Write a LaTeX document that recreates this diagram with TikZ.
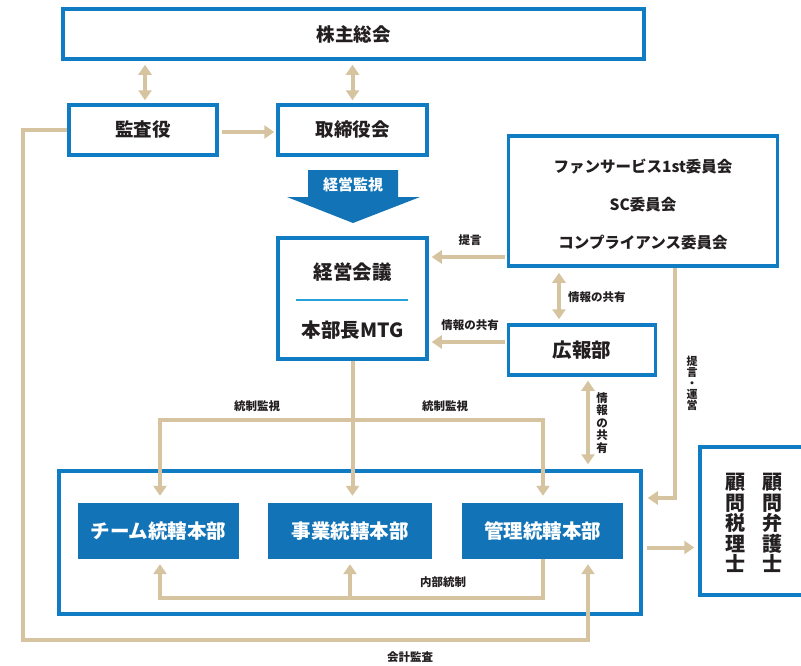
\documentclass[tikz,border=0pt]{standalone}
\usepackage{fontspec}
\setmainfont{Noto Sans CJK JP}
\usetikzlibrary{arrows.meta,calc}
\definecolor{bblue}{RGB}{16,124,196}
\definecolor{fblue}{RGB}{18,116,182}
\definecolor{lblue}{RGB}{40,160,220}
\definecolor{tan}{RGB}{214,196,160}
\definecolor{ink}{RGB}{35,31,32}
\tikzset{
  box/.style={draw=bblue, line width=3.5pt, rectangle, inner sep=0pt, font=\bfseries\fontsize{18.5}{20}\selectfont, text=ink},
  fbox/.style={fill=fblue, rectangle, inner sep=0pt, minimum width=161pt, minimum height=56pt, font=\bfseries\fontsize{19.5}{21}\selectfont, text=white},
  tanline/.style={draw=tan, line width=4pt},
  tanarrow/.style={tanline, -{Triangle[width=13pt,length=10pt]}},
  tanboth/.style={tanline, {Triangle[width=13pt,length=10pt]}-{Triangle[width=13pt,length=10pt]}},
  small/.style={font=\bfseries\fontsize{11.5}{12}\selectfont, text=ink, inner sep=0pt},
}
\begin{document}
\begin{tikzpicture}[x=1pt,y=-1pt]
\useasboundingbox (0,0) rectangle (801,665);
\clip (0,0) rectangle (801,665);
\fill[white] (0,0) rectangle (801,665);

% boxes
\node[box, minimum width=581pt, minimum height=50pt] (top) at (353.5,34) {株主総会};
\node[box, minimum width=148pt, minimum height=50pt] (kansa) at (143,130) {監査役};
\node[box, minimum width=149pt, minimum height=50pt] (tori) at (352.5,130) {取締役会};
\node[box, minimum width=149pt, minimum height=121pt] (keiei) at (352.5,298.5) {};
\node[box, font=\bfseries\fontsize{19.5}{21}\selectfont] (keieiA) at (352.5,272) [draw=none] {経営会議};
\node[box, font=\bfseries\fontsize{19.5}{21}\selectfont] (keieiB) at (352.5,330) [draw=none] {本部長MTG};
\draw[lblue, line width=1.6pt] (296,300) -- (408,300);

\node[box, minimum width=269pt, minimum height=130pt] (comm) at (643,201) {};
\node[box, draw=none, font=\bfseries\fontsize{15.5}{17}\selectfont] (c1) at (643,167) {ファンサービス1st委員会};
\node[box, draw=none, font=\bfseries\fontsize{15.5}{17}\selectfont] (c2) at (643,205) {SC委員会};
\node[box, draw=none, font=\bfseries\fontsize{15.5}{17}\selectfont] (c3) at (643,243) {コンプライアンス委員会};

\node[box, minimum width=147pt, minimum height=50pt, font=\bfseries\fontsize{19.5}{21}\selectfont] (kouhou) at (582,350) {広報部};

\node[box, minimum width=582pt, minimum height=143pt] (big) at (350,542.5) {};
\node[fbox] (team) at (158.5,531) {チーム統轄本部};
\node[fbox, minimum width=164pt] (jigyo) at (350,531) {事業統轄本部};
\node[fbox] (kanri) at (542.5,531) {管理統轄本部};

\node[box, minimum width=112pt, minimum height=148pt] (komon) at (756,521) {};
\node[box, draw=none, align=center, font=\bfseries\fontsize{20}{20.5}\selectfont] (k1) at (772,523) {顧\\問\\弁\\護\\士};
\node[box, draw=none, align=center, font=\bfseries\fontsize{20}{20.5}\selectfont] (k2) at (735,523) {顧\\問\\税\\理\\士};

% 経営監視 block arrow
\fill[fblue] (308,170) -- (398,170) -- (398,197) -- (420,197) -- (353,223) -- (287,197) -- (308,197) -- cycle;
\node[font=\bfseries\fontsize{15}{17}\selectfont, text=white, inner sep=0pt] (kansi) at (353,185) {経営監視};

% connectors top
\draw[tanboth, shorten <=4pt, shorten >=3pt] (top.south -| 145,0) -- (kansa.north -| 145,0);
\draw[tanboth, shorten <=4pt, shorten >=3pt] (top.south -| tori.north) -- (tori.north);
\draw[tanarrow, shorten <=3pt, shorten >=2pt] ([yshift=-2pt]kansa.east) -- ([yshift=-2pt]tori.west);

% 提言
\coordinate (p1) at ([yshift=-56pt]comm.west);
\draw[tanarrow, shorten <=2pt, shorten >=3pt] (p1) -- (p1 -| keiei.east);
\node[small] (lt1) at (470,240) {提言};

% 情報の共有 comm <-> kouhou
\coordinate (q1) at ([xshift=-23pt]kouhou.north);
\draw[tanboth, shorten <=4pt, shorten >=5pt] (q1) -- (q1 |- comm.south);
\node[small, anchor=west] (lt2) at (568,297) {情報の共有};

% kouhou -> keiei
\coordinate (q2) at ([yshift=8pt]kouhou.west);
\draw[tanarrow, shorten <=2pt, shorten >=3pt] (q2) -- (q2 -| keiei.east);
\node[small] (lt3) at (470,325) {情報の共有};

% kouhou <-> big
\coordinate (q3) at ([xshift=6pt]kouhou.south);
\draw[tanboth, shorten <=4pt, shorten >=5pt] (q3) -- (q3 |- big.north);
\node[small, align=center, font=\bfseries\fontsize{11.5}{12.5}\selectfont] (lt4) at (602,423) {情\\報\\の\\共\\有};

% comm -> big (提言・運営)
\coordinate (r1) at (comm.south -| 675,0);
\coordinate (r2) at (675,498);
\draw[tanarrow, shorten >=5pt] (r1) -- (r2) -- (r2 -| big.east);
\node[small, align=center, font=\bfseries\fontsize{11}{11}\selectfont] (lt5) at (692,383) {提\\言\\・\\運\\営};

% big -> komon
\coordinate (s1) at ([yshift=-5pt]big.east);
\draw[tanarrow, shorten <=4pt, shorten >=4pt] (s1) -- (s1 -| komon.west);

% 統制監視
\coordinate (tL) at (160,420);
\coordinate (tR) at (543,420);
\draw[tanarrow, shorten >=7pt] (keiei.south) -- (keiei.south |- jigyo.north);
\draw[tanline] ([xshift=-2pt]tL) -- ([xshift=2pt]tR);
\draw[tanarrow, shorten >=7pt] (tL) -- (tL |- team.north);
\draw[tanarrow, shorten >=7pt] (tR) -- (tR |- kanri.north);
\node[small] (lt6) at (257,406) {統制監視};
\node[small] (lt7) at (445,406) {統制監視};

% 内部統制
\coordinate (u1) at (kanri.south -| 543,0);
\coordinate (u2) at (543,598);
\coordinate (u3) at (160,598);
\coordinate (u4) at (350,598);
\draw[tanarrow, shorten >=5pt, line join=miter] (u1) -- (u2) -- (u3) -- (u3 |- team.south);
\draw[tanarrow, shorten >=5pt] (u4) -- (u4 |- jigyo.south);
\node[small] (lt8) at (443,582) {内部統制};

% 会計監査
\coordinate (v1) at (23,130);
\coordinate (v2) at (23,640);
\coordinate (v3) at (588,640);
\draw[tanarrow, shorten >=5pt, line join=miter] (kansa.west) -- (v1) -- (v2) -- (v3) -- (v3 |- kanri.south);
\node[small] (lt9) at (410,657) {会計監査};
\end{tikzpicture}
\end{document}
